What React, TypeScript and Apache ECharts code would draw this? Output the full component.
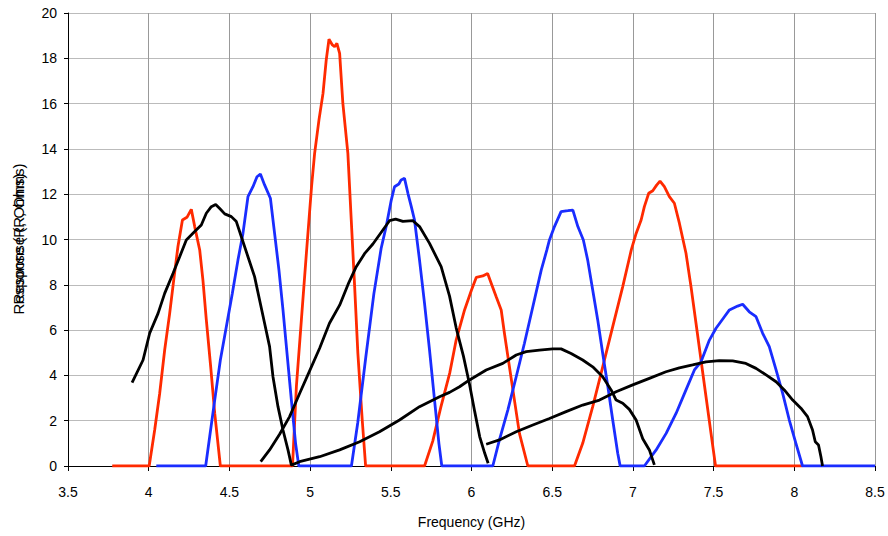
import React, { useEffect, useRef } from "react";
import * as echarts from "echarts";

// Frequency axis ticks (GHz) and response axis ticks (Ohms)
const xTicks = [3.5, 4, 4.5, 5, 5.5, 6, 6.5, 7, 7.5, 8, 8.5];
const yTicks = [0, 2, 4, 6, 8, 10, 12, 14, 16, 18, 20];

// Red filters
const redX = [3.774, 4.003, 4.037, 4.068, 4.099, 4.13, 4.155, 4.181, 4.209, 4.237, 4.264, 4.285, 4.316, 4.336, 4.357, 4.384, 4.409, 4.444,
  4.891, 4.915, 4.946, 4.977, 5.009, 5.028, 5.055, 5.08, 5.1, 5.117, 5.138, 5.152, 5.166, 5.183, 5.203, 5.234, 5.255, 5.276, 5.296, 5.323, 5.344,
  5.709, 5.76, 5.81, 5.865, 5.905, 5.957, 6.0, 6.03, 6.07, 6.1, 6.122, 6.153, 6.184, 6.204, 6.235, 6.266, 6.297, 6.349,
  6.638, 6.689, 6.751, 6.813, 6.875, 6.937, 6.99, 7.02, 7.051, 7.071, 7.098, 7.123, 7.147, 7.168, 7.195, 7.226, 7.257, 7.288, 7.329, 7.36, 7.391, 7.422, 7.453, 7.484, 7.512, 8.05];
const redY = [0, 0, 1.59, 3.2, 5.12, 6.74, 8.21, 9.68, 10.86, 10.98, 11.33, 10.57, 9.54, 8.21, 6.45, 4.39, 2.33, 0,
  0, 3.5, 6.45, 9.39, 12.33, 13.8, 15.28, 16.45, 17.93, 18.84, 18.59, 18.51, 18.66, 18.22, 16.01, 13.8, 10.86, 7.92, 4.97, 2.03, 0,
  0, 1.1, 2.6, 4.1, 5.56, 6.89, 7.77, 8.33, 8.39, 8.5, 8.07, 7.47, 6.89, 5.86, 4.38, 2.91, 1.44, 0,
  0, 1.0, 2.62, 4.38, 6.15, 7.92, 9.54, 10.27, 10.86, 11.45, 12.04, 12.15, 12.4, 12.58, 12.33, 11.89, 11.6, 10.72, 9.39, 7.92, 6.3, 4.68, 3.06, 1.44, 0, 0];

// Blue filters
const blueX = [4.047, 4.353, 4.378, 4.409, 4.444, 4.481, 4.518, 4.553, 4.584, 4.615, 4.646, 4.671, 4.692, 4.718, 4.754, 4.78, 4.807, 4.832, 4.857, 4.884, 4.91, 4.93,
  5.256, 5.295, 5.345, 5.395, 5.44, 5.472, 5.503, 5.523, 5.55, 5.564, 5.585, 5.606, 5.627, 5.647, 5.678, 5.709, 5.74, 5.771, 5.798, 5.816,
  6.132, 6.173, 6.225, 6.277, 6.328, 6.38, 6.432, 6.467, 6.483, 6.514, 6.555, 6.597, 6.628, 6.659, 6.693, 6.72, 6.751, 6.782, 6.813, 6.845, 6.875, 6.906, 6.921,
  7.071, 7.144, 7.206, 7.268, 7.329, 7.381, 7.422, 7.474, 7.515, 7.567, 7.598, 7.649, 7.68, 7.721, 7.763, 7.804, 7.845, 7.887, 7.928, 7.969, 8.01, 8.051, 8.5];
const blueY = [0, 0, 1.3, 2.91, 4.68, 6.15, 7.62, 9.09, 10.27, 11.89, 12.33, 12.77, 12.89, 12.41, 11.82, 10.27, 8.65, 6.89, 4.97, 2.91, 1.0, 0,
  0, 1.9, 4.8, 7.6, 9.6, 10.6, 11.74, 12.33, 12.45, 12.63, 12.7, 12.04, 11.45, 10.86, 9.09, 7.18, 5.12, 2.91, 1.0, 0,
  0, 1.15, 2.47, 3.94, 5.42, 7.03, 8.65, 9.54, 9.98, 10.57, 11.23, 11.27, 11.3, 10.57, 9.98, 9.09, 7.77, 6.45, 4.97, 3.5, 2.03, 0.56, 0,
  0, 0.71, 1.44, 2.33, 3.36, 4.24, 4.6, 5.56, 6.08, 6.59, 6.89, 7.06, 7.14, 6.81, 6.59, 5.86, 5.27, 4.24, 3.21, 2.03, 1.0, 0, 0];

// Black responses
const blackAX = [3.897, 3.965, 4.006, 4.058, 4.099, 4.151, 4.192, 4.233, 4.285, 4.326, 4.357, 4.388, 4.415, 4.44, 4.471, 4.512, 4.543, 4.574, 4.615, 4.656, 4.687, 4.718, 4.749, 4.77, 4.801, 4.832, 4.863, 4.884,
  4.935, 5.059, 5.183, 5.307, 5.43, 5.554, 5.678, 5.802, 5.864, 5.926, 5.988, 6.091, 6.194, 6.277, 6.339, 6.421, 6.504, 6.555, 6.617, 6.689, 6.751, 6.813, 6.865, 6.896, 6.937, 6.978, 7.02, 7.061, 7.102, 7.133];
const blackAY = [3.68, 4.68, 5.86, 6.74, 7.62, 8.51, 9.24, 9.98, 10.35, 10.64, 11.16, 11.45, 11.55, 11.37, 11.13, 11.01, 10.79, 10.12, 9.24, 8.36, 7.33, 6.3, 5.27, 3.94, 2.62, 1.59, 0.71, 0.04,
  0.19, 0.41, 0.71, 1.07, 1.51, 2.03, 2.62, 3.06, 3.25, 3.5, 3.8, 4.24, 4.53, 4.9, 5.05, 5.12, 5.17, 5.17, 4.97, 4.68, 4.38, 3.94, 3.36, 2.91, 2.77, 2.5, 2.03, 1.2, 0.71, 0.05];
const blackBX = [4.694, 4.749, 4.811, 4.873, 4.935, 4.997, 5.059, 5.12, 5.183, 5.24, 5.286, 5.34, 5.389, 5.451, 5.492, 5.53, 5.575, 5.637, 5.678, 5.74, 5.812, 5.864, 5.905, 5.95, 5.988, 6.02, 6.051, 6.082, 6.103];
const blackBY = [0.19, 0.71, 1.4, 2.18, 3.2, 4.2, 5.2, 6.3, 7.1, 8.1, 8.8, 9.4, 9.8, 10.42, 10.83, 10.9, 10.8, 10.83, 10.57, 9.83, 8.8, 7.5, 6.1, 4.85, 3.6, 2.4, 1.29, 0.56, 0.12];
const blackCX = [6.091, 6.173, 6.277, 6.38, 6.483, 6.586, 6.689, 6.793, 6.896, 6.999, 7.102, 7.205, 7.288, 7.37, 7.453, 7.535, 7.618, 7.7, 7.763, 7.825, 7.887, 7.938, 7.99, 8.041, 8.082, 8.113, 8.13, 8.15, 8.165, 8.175];
const blackCY = [0.96, 1.15, 1.51, 1.81, 2.1, 2.4, 2.69, 2.91, 3.28, 3.58, 3.87, 4.16, 4.33, 4.46, 4.6, 4.65, 4.64, 4.53, 4.31, 4.02, 3.72, 3.36, 2.91, 2.55, 2.18, 1.59, 1.07, 0.93, 0.41, 0];

const xTitle = "Frequency (GHz)";
const yTitle = "Response (R, Ohms)";

const zip = (xs: number[], ys: number[]) => xs.map((x, i) => [x, ys[i]]);

const FONT = "'Liberation Sans', Arial, sans-serif";

export default function App() {
  const ref = useRef<HTMLDivElement>(null);
  useEffect(() => {
    document.body.style.margin = "0";
    const chart = echarts.init(ref.current!, null, { renderer: "svg" });
    const line = (name: string, data: number[][], color: string) => ({
      name,
      type: "line",
      data,
      showSymbol: false,
      symbol: "none",
      lineStyle: { color, width: 2.8 },
      itemStyle: { color },
      z: 3,
    });
    chart.setOption({
      animation: false,
      backgroundColor: "#ffffff",
      textStyle: { fontFamily: FONT },
      grid: { left: 68, top: 13, right: 13, bottom: 70, containLabel: false, outerBoundsMode: "none" },
      xAxis: {
        type: "value",
        min: xTicks[0],
        max: xTicks[xTicks.length - 1],
        interval: 0.5,
        axisLine: { show: true, onZero: false, lineStyle: { color: "#000", width: 1 } },
        axisTick: { show: true, length: 5, lineStyle: { color: "#000" } },
        axisLabel: { color: "#000", fontSize: 14, fontFamily: FONT, margin: 19 },
        splitLine: { show: true, lineStyle: { color: "#999999", width: 1 } },
        name: xTitle,
        nameLocation: "middle",
        nameGap: 49,
        nameTextStyle: { color: "#000", fontSize: 14, fontFamily: FONT },
      },
      yAxis: {
        type: "value",
        min: yTicks[0],
        max: yTicks[yTicks.length - 1],
        interval: 2,
        axisLine: { show: true, lineStyle: { color: "#000", width: 1 } },
        axisTick: { show: true, length: 4, lineStyle: { color: "#000" } },
        axisLabel: { color: "#000", fontSize: 14, fontFamily: FONT, margin: 11 },
        splitLine: { show: true, lineStyle: { color: "#bbbbbb", width: 1 } },
      },
      graphic: [
        {
          type: "text",
          x: 18,
          y: 244,
          rotation: Math.PI / 2,
          style: { text: yTitle, font: `15px ${FONT}`, fill: "#000", align: "center", verticalAlign: "middle" },
        },
        {
          type: "text",
          x: 18,
          y: 234,
          rotation: Math.PI / 2,
          style: { text: yTitle, font: `15px ${FONT}`, fill: "#000", align: "center", verticalAlign: "middle" },
        },
      ],
      series: [
        line("Red", zip(redX, redY), "#ff2a00"),
        line("Blue", zip(blueX, blueY), "#1a2dff"),
        line("Black A", zip(blackAX, blackAY), "#000000"),
        line("Black B", zip(blackBX, blackBY), "#000000"),
        line("Black C", zip(blackCX, blackCY), "#000000"),
      ],
    });
    return () => chart.dispose();
  }, []);
  return <div ref={ref} style={{ width: 888, height: 536 }} />;
}
